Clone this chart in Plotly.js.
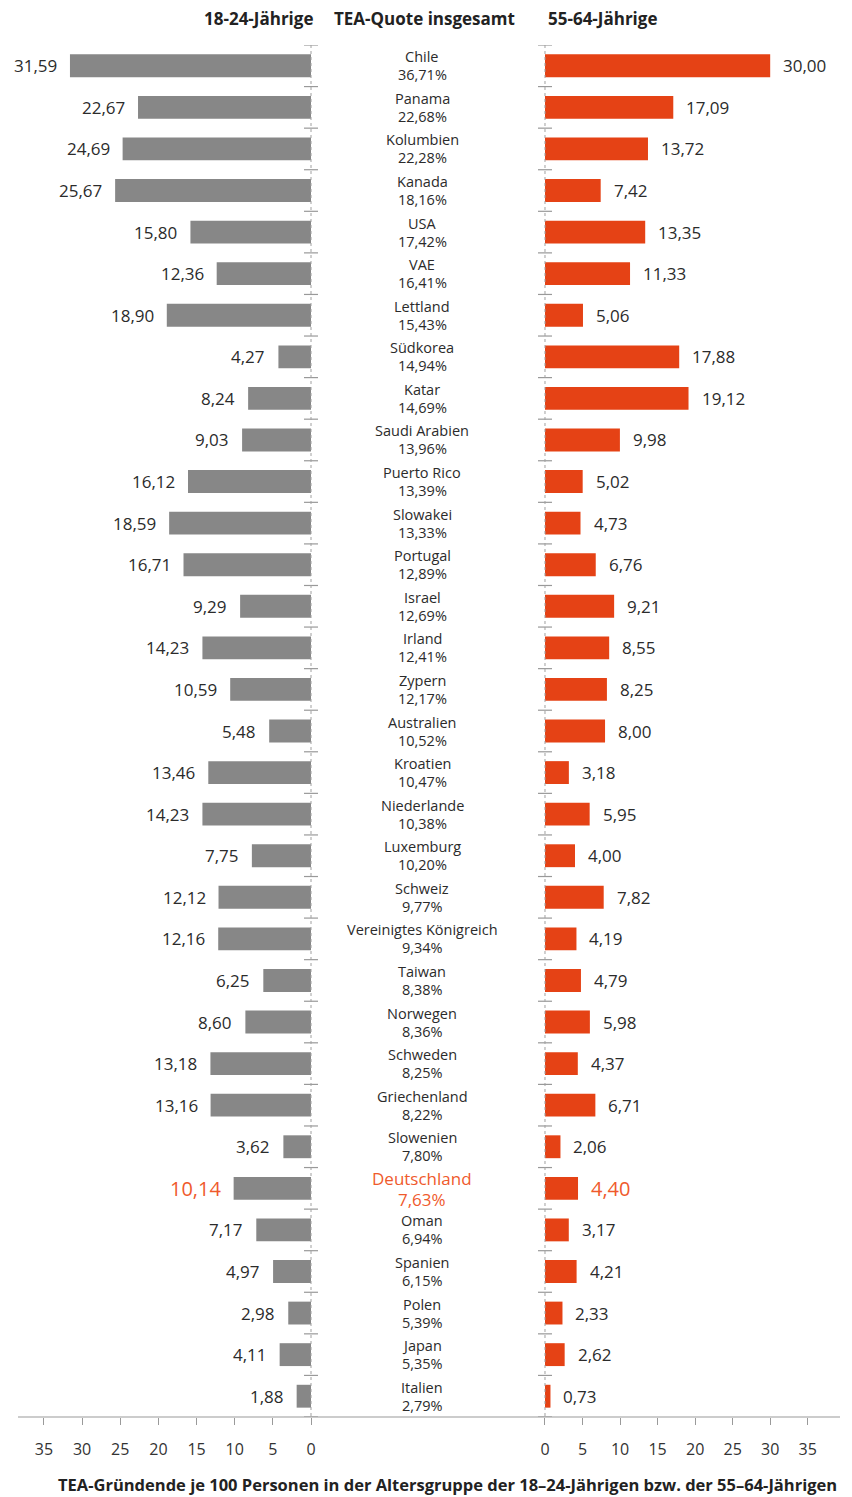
<!DOCTYPE html>
<html><head><meta charset="utf-8">
<script src="https://cdn.plot.ly/plotly-3.0.1.min.js"></script>
<style>html,body{margin:0;padding:0;background:#fff}</style>
</head><body><div id="chart" style="width:852px;height:1497px"></div>
<script>
var countries = ["Chile","Panama","Kolumbien","Kanada","USA","VAE","Lettland","Südkorea","Katar","Saudi Arabien","Puerto Rico","Slowakei","Portugal","Israel","Irland","Zypern","Australien","Kroatien","Niederlande","Luxemburg","Schweiz","Vereinigtes Königreich","Taiwan","Norwegen","Schweden","Griechenland","Slowenien","Deutschland","Oman","Spanien","Polen","Japan","Italien"];
var teaTotal = [36.71,22.68,22.28,18.16,17.42,16.41,15.43,14.94,14.69,13.96,13.39,13.33,12.89,12.69,12.41,12.17,10.52,10.47,10.38,10.20,9.77,9.34,8.38,8.36,8.25,8.22,7.80,7.63,6.94,6.15,5.39,5.35,2.79];
var young = [31.59,22.67,24.69,25.67,15.80,12.36,18.90,4.27,8.24,9.03,16.12,18.59,16.71,9.29,14.23,10.59,5.48,13.46,14.23,7.75,12.12,12.16,6.25,8.60,13.18,13.16,3.62,10.14,7.17,4.97,2.98,4.11,1.88];
var older = [30.00,17.09,13.72,7.42,13.35,11.33,5.06,17.88,19.12,9.98,5.02,4.73,6.76,9.21,8.55,8.25,8.00,3.18,5.95,4.00,7.82,4.19,4.79,5.98,4.37,6.71,2.06,4.40,3.17,4.21,2.33,2.62,0.73];
var tickVals = [0,5,10,15,20,25,30,35];
var headers = ["18-24-Jährige","TEA-Quote insgesamt","55-64-Jährige"];
var highlight = "Deutschland";
var xTitle = "TEA-Gründende je 100 Personen in der Altersgruppe der 18–24-Jährigen bzw. der 55–64-Jährigen";

var W = 852, H = 1497;
var FONT = "'Open Sans', 'Noto Sans', sans-serif";
var GRAY = "#878787", RED = "#e54215", HL = "#ef5a2c", TXT = "#2b2b2b";
var fmt = function(v){ return v.toFixed(2).replace('.', ','); };
var idx = countries.map(function(_, i){ return i; });

var xd1 = [18/W, 322/W], xd2 = [534/W, 840/W];
var yd = [(H-1417)/H, (H-45)/H];

var traces = [
  {type:'bar', orientation:'h', x: young, y: idx, xaxis:'x', yaxis:'y',
   marker:{color:GRAY}, width:0.55, hoverinfo:'none'},
  {type:'bar', orientation:'h', x: older, y: idx, xaxis:'x2', yaxis:'y',
   marker:{color:RED}, width:0.55, hoverinfo:'none'}
];

var ann = [], shapes = [];
idx.forEach(function(i){
  var hl = countries[i] === highlight;
  var vf = {family:FONT, size: hl ? 20 : 17, color: hl ? HL : TXT};
  var cf = {family:FONT, size: hl ? 17 : 14.5, color: hl ? HL : TXT};
  var up = hl ? 10 : 9, dn = hl ? 11 : 9;
  ann.push({xref:'x', yref:'y', x: young[i], y: i, text: fmt(young[i]), showarrow:false,
            xanchor:'right', xshift: -11, font: vf});
  ann.push({xref:'x2', yref:'y', x: older[i], y: i, text: fmt(older[i]), showarrow:false,
            xanchor:'left', xshift: 11, font: vf});
  ann.push({xref:'paper', yref:'y', x: 422/W, y: i, yshift: up, borderpad:0,
            text: countries[i], showarrow:false, xanchor:'center', yanchor:'middle', font: cf});
  ann.push({xref:'paper', yref:'y', x: 422/W, y: i, yshift: -dn, borderpad:0,
            text: fmt(teaTotal[i]) + '%', showarrow:false, xanchor:'center', yanchor:'middle', font: cf});
});
// boundary marks at zero lines
for (var b = -0.5; b < countries.length - 0.4; b += 1) {
  ['x','x2'].forEach(function(xr){
    shapes.push({type:'line', xref:xr, yref:'y', xsizemode:'pixel', xanchor:0,
      x0:-7, x1:7, y0:b, y1:b, line:{color:'#999', width:1.2}});
  });
}
['x','x2'].forEach(function(xr){
  shapes.push({type:'line', xref:xr, yref:'y', x0:0, x1:0, y0:-0.5, y1:32.5,
    line:{color:'#a0a0a0', width:1, dash:'3px,3px'}});
});
shapes.push({type:'line', xref:'paper', yref:'paper', x0:xd1[0], x1:xd2[1], y0:yd[0], y1:yd[0],
  line:{color:'#9a9a9a', width:1.2}});

var hf = {family:FONT, size:17, color:'#222'};
ann.push({xref:'paper', yref:'paper', x:258/W, y:(H-18)/H, text:'<b>'+headers[0]+'</b>', showarrow:false, xanchor:'center', yanchor:'middle', font:hf});
ann.push({xref:'paper', yref:'paper', x:424/W, y:(H-18)/H, text:'<b>'+headers[1]+'</b>', showarrow:false, xanchor:'center', yanchor:'middle', font:hf});
ann.push({xref:'paper', yref:'paper', x:602/W, y:(H-18)/H, text:'<b>'+headers[2]+'</b>', showarrow:false, xanchor:'center', yanchor:'middle', font:hf});
ann.push({xref:'paper', yref:'paper', x:447/W, y:(H-1484)/H, text:'<b>'+xTitle+'</b>', showarrow:false, xanchor:'center', yanchor:'middle', borderpad:0, font:{family:FONT, size:16.5, color:'#222'}});

var axCommon = {showgrid:false, zeroline:false, showline:false,
  ticks:'outside', ticklen:7, tickcolor:'#9a9a9a', tickvals: tickVals, ticktext: tickVals.map(String),
  tickfont:{family:FONT, size:16, color:'#333'}, ticklabelstandoff:11, fixedrange:true};

var layout = {
  width:W, height:H, margin:{l:0,r:0,t:0,b:0}, showlegend:false,
  paper_bgcolor:'#fff', plot_bgcolor:'rgba(0,0,0,0)',
  xaxis: Object.assign({}, axCommon, {domain:xd1, range:[38.4, -11/7.63], anchor:'y'}),
  xaxis2: Object.assign({}, axCommon, {domain:xd2, range:[-11/7.51, 39.3], anchor:'y'}),
  yaxis: {domain:yd, range:[32.5,-0.5], showticklabels:false, showgrid:false, zeroline:false, showline:false, ticks:'', fixedrange:true},
  annotations: ann, shapes: shapes
};
Plotly.newPlot('chart', traces, layout, {staticPlot:true, displayModeBar:false});
</script></body></html>
